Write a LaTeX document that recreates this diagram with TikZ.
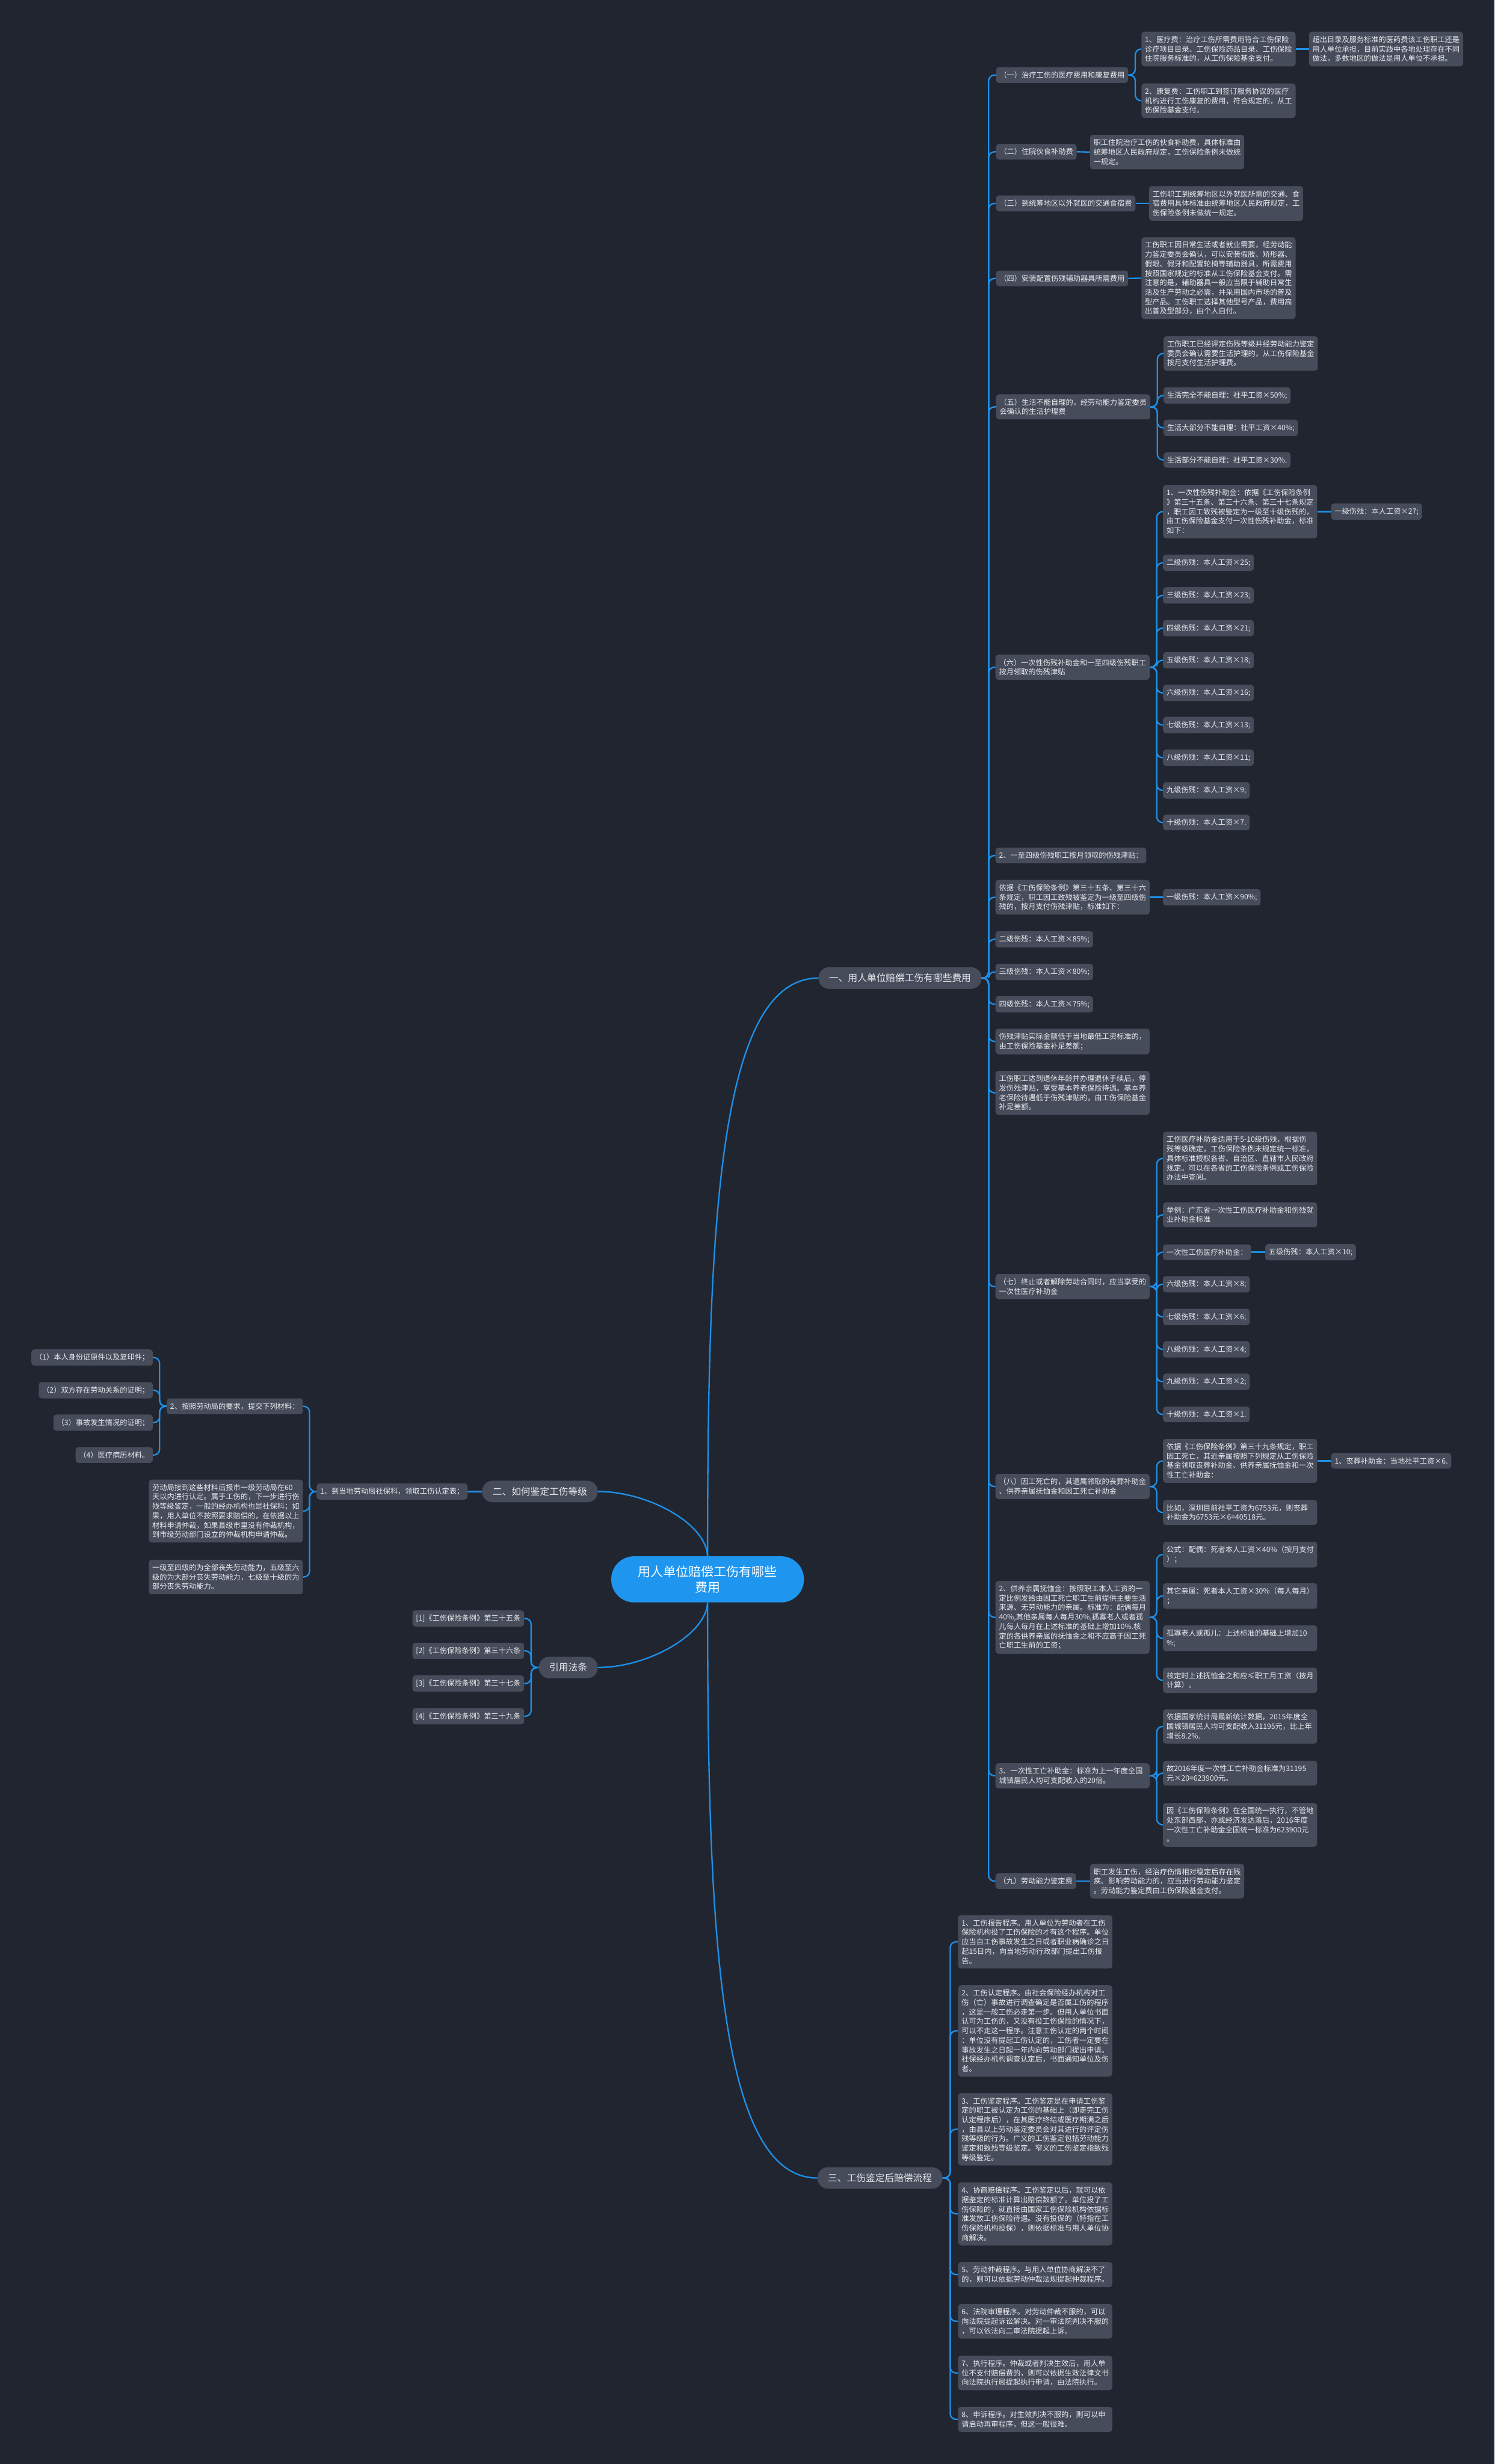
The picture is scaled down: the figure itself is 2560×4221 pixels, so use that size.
\documentclass[tikz,border=0pt]{standalone}
\usepackage{fontspec}
\setmainfont{Noto Sans CJK SC}
\definecolor{bgc}{RGB}{33,37,47}
\definecolor{nodec}{RGB}{70,76,90}
\definecolor{txtc}{RGB}{232,234,238}
\definecolor{linkc}{RGB}{30,144,232}
\definecolor{rootc}{RGB}{30,150,240}

\begin{document}
\begin{tikzpicture}[x=1pt, y=-1pt,
        leaf/.style={fill=nodec, rounded corners=5pt, text=txtc, align=left,
            inner xsep=6pt, inner ysep=7.5pt, font=\fontsize{12.6}{16.2}\selectfont},
        wide/.style={leaf, text width=252pt},
        branch/.style={fill=nodec, rounded corners=18pt, text=txtc, inner xsep=18pt,
            minimum height=37pt, font=\fontsize{16.2}{20}\selectfont},
        rootbox/.style={fill=rootc, rounded corners=39pt, text=white, align=center,
            minimum width=330pt, minimum height=79pt, font=\fontsize{21.6}{27}\selectfont},
        link/.style={draw=linkc, line width=2.4pt, rounded corners=10pt}]
        \fill[bgc] (0,0) rectangle (2560,4221);
        \useasboundingbox (0,0) rectangle (2560,4221);

        % centre and main branches
        \node[rootbox] (root) at (1212,2705.5) {用人单位赔偿工伤有哪些\\费用};
        \node[branch, anchor=west] (fy) at (1402,1675.5) {一、用人单位赔偿工伤有哪些费用};
        \node[branch, anchor=east] (jd) at (1024,2555) {二、如何鉴定工伤等级};
        \node[branch, anchor=east] (ft) at (1024,2856.5) {引用法条};
        \node[branch, anchor=west] (lc) at (1400,3731) {三、工伤鉴定后赔偿流程};

        % (一) to (五)
        \node[leaf, anchor=west] (a1) at (1706,128.5) {（一）治疗工伤的医疗费用和康复费用};
        \node[wide, anchor=west] (a1m) at (1955,84) {1、医疗费：治疗工伤所需费用符合工伤保险\\诊疗项目目录、工伤保险药品目录、工伤保险\\住院服务标准的，从工伤保险基金支付。};
        \node[wide, anchor=west] (a1x) at (2242,84) {超出目录及服务标准的医药费该工伤职工还是\\用人单位承担，目前实践中各地处理存在不同\\做法，多数地区的做法是用人单位不承担。};
        \node[wide, anchor=west] (a1k) at (1955,172.5) {2、康复费：工伤职工到签订服务协议的医疗\\机构进行工伤康复的费用，符合规定的，从工\\伤保险基金支付。};
        \node[leaf, anchor=west] (a2) at (1706,260) {（二）住院伙食补助费};
        \node[wide, anchor=west] (a2c) at (1867,260.5) {职工住院治疗工伤的伙食补助费，具体标准由\\统筹地区人民政府规定，工伤保险条例未做统\\一规定。};
        \node[leaf, anchor=west] (a3) at (1706,348.5) {（三）到统筹地区以外就医的交通食宿费};
        \node[wide, anchor=west] (a3c) at (1968,348.5) {工伤职工到统筹地区以外就医所需的交通、食\\宿费用具体标准由统筹地区人民政府规定，工\\伤保险条例未做统一规定。};
        \node[leaf, anchor=west] (a4) at (1706,477) {（四）安装配置伤残辅助器具所需费用};
        \node[wide, anchor=west] (a4c) at (1955,476.5) {工伤职工因日常生活或者就业需要，经劳动能\\力鉴定委员会确认，可以安装假肢、矫形器、\\假眼、假牙和配置轮椅等辅助器具，所需费用\\按照国家规定的标准从工伤保险基金支付。需\\注意的是，辅助器具一般应当限于辅助日常生\\活及生产劳动之必需，并采用国内市场的普及\\型产品。工伤职工选择其他型号产品，费用高\\出普及型部分，由个人自付。};
        \node[wide, anchor=west] (a5) at (1706,697) {（五）生活不能自理的，经劳动能力鉴定委员\\会确认的生活护理费};
        \node[wide, anchor=west] (a5a) at (1993,605.5) {工伤职工已经评定伤残等级并经劳动能力鉴定\\委员会确认需要生活护理的，从工伤保险基金\\按月支付生活护理费。};
        \node[leaf, anchor=west] (a5b) at (1993,677.5) {生活完全不能自理：社平工资×50\%;};
        \node[leaf, anchor=west] (a5c) at (1993,733) {生活大部分不能自理：社平工资×40\%;};
        \node[leaf, anchor=west] (a5d) at (1993,788) {生活部分不能自理：社平工资×30\%.};

        % (六)
        \node[wide, anchor=west] (a6) at (1705,1143) {（六）一次性伤残补助金和一至四级伤残职工\\按月领取的伤残津贴};
        \node[wide, anchor=west] (a6a) at (1992,876.5) {1、一次性伤残补助金：依据《工伤保险条例\\》第三十五条、第三十六条、第三十七条规定\\，职工因工致残被鉴定为一级至十级伤残的，\\由工伤保险基金支付一次性伤残补助金，标准\\如下：};
        \node[leaf, anchor=west] (a6z) at (2280,876.5) {一级伤残：本人工资×27;};
        \node[leaf, anchor=west] (a6g2) at (1992,964) {二级伤残：本人工资×25;};
        \node[leaf, anchor=west] (a6g3) at (1992,1020) {三级伤残：本人工资×23;};
        \node[leaf, anchor=west] (a6g4) at (1992,1076) {四级伤残：本人工资×21;};
        \node[leaf, anchor=west] (a6g5) at (1992,1131) {五级伤残：本人工资×18;};
        \node[leaf, anchor=west] (a6g6) at (1992,1187) {六级伤残：本人工资×16;};
        \node[leaf, anchor=west] (a6g7) at (1992,1242) {七级伤残：本人工资×13;};
        \node[leaf, anchor=west] (a6g8) at (1992,1298) {八级伤残：本人工资×11;};
        \node[leaf, anchor=west] (a6g9) at (1992,1354) {九级伤残：本人工资×9;};
        \node[leaf, anchor=west] (a6g10) at (1992,1409) {十级伤残：本人工资×7.};

        % monthly allowance
        \node[leaf, anchor=west] (b1) at (1705,1465.5) {2、一至四级伤残职工按月领取的伤残津贴：};
        \node[wide, anchor=west] (b2) at (1705,1537) {依据《工伤保险条例》第三十五条、第三十六\\条规定，职工因工致残被鉴定为一级至四级伤\\残的，按月支付伤残津贴，标准如下：};
        \node[leaf, anchor=west] (b2z) at (1992,1537) {一级伤残：本人工资×90\%;};
        \node[leaf, anchor=west] (b3) at (1705,1609) {二级伤残：本人工资×85\%;};
        \node[leaf, anchor=west] (b4) at (1705,1665) {三级伤残：本人工资×80\%;};
        \node[leaf, anchor=west] (b5) at (1705,1720.5) {四级伤残：本人工资×75\%;};
        \node[wide, anchor=west] (b6) at (1705,1784) {伤残津贴实际金额低于当地最低工资标准的，\\由工伤保险基金补足差额；};
        \node[wide, anchor=west] (b7) at (1705,1872) {工伤职工达到退休年龄并办理退休手续后，停\\发伤残津贴，享受基本养老保险待遇。基本养\\老保险待遇低于伤残津贴的，由工伤保险基金\\补足差额。};

        % (七)
        \node[wide, anchor=west] (a7) at (1705,2204) {（七）终止或者解除劳动合同时，应当享受的\\一次性医疗补助金};
        \node[wide, anchor=west] (a7a) at (1992,1984.5) {工伤医疗补助金适用于5-10级伤残，根据伤\\残等级确定，工伤保险条例未规定统一标准，\\具体标准授权各省、自治区、直辖市人民政府\\规定。可以在各省的工伤保险条例或工伤保险\\办法中查阅。};
        \node[wide, anchor=west] (a7b) at (1992,2081) {举例：广东省一次性工伤医疗补助金和伤残就\\业补助金标准};
        \node[leaf, anchor=west] (a7c) at (1992,2145) {一次性工伤医疗补助金：};
        \node[leaf, anchor=west] (a7z) at (2167,2145) {五级伤残：本人工资×10;};
        \node[leaf, anchor=west] (a7g6) at (1992,2200) {六级伤残：本人工资×8;};
        \node[leaf, anchor=west] (a7g7) at (1992,2256) {七级伤残：本人工资×6;};
        \node[leaf, anchor=west] (a7g8) at (1992,2311.5) {八级伤残：本人工资×4;};
        \node[leaf, anchor=west] (a7g9) at (1992,2367) {九级伤残：本人工资×2;};
        \node[leaf, anchor=west] (a7g10) at (1992,2423) {十级伤残：本人工资×1.};

        % (八)
        \node[wide, anchor=west] (a8) at (1705,2546.5) {（八）因工死亡的，其遗属领取的丧葬补助金\\、供养亲属抚恤金和因工死亡补助金};
        \node[wide, anchor=west] (a8a) at (1992,2502.5) {依据《工伤保险条例》第三十九条规定，职工\\因工死亡，其近亲属按照下列规定从工伤保险\\基金领取丧葬补助金、供养亲属抚恤金和一次\\性工亡补助金：};
        \node[leaf, anchor=west] (a8z) at (2280,2502.5) {1、丧葬补助金：当地社平工资×6.};
        \node[wide, anchor=west] (a8b) at (1992,2591) {比如，深圳目前社平工资为6753元，则丧葬\\补助金为6753元×6=40518元。};
        \node[wide, anchor=west] (d2) at (1705,2770.5) {2、供养亲属抚恤金：按照职工本人工资的一\\定比例发给由因工死亡职工生前提供主要生活\\来源、无劳动能力的亲属。标准为：配偶每月\\40\%,其他亲属每人每月30\%,孤寡老人或者孤\\儿每人每月在上述标准的基础上增加10\%.核\\定的各供养亲属的抚恤金之和不应高于因工死\\亡职工生前的工资；};
        \node[wide, anchor=west] (d2a) at (1992,2663) {公式：配偶：死者本人工资×40\%（按月支付\\）；};
        \node[wide, anchor=west] (d2b) at (1992,2734) {其它亲属：死者本人工资×30\%（每人每月）\\；};
        \node[wide, anchor=west] (d2c) at (1992,2806.5) {孤寡老人或孤儿：上述标准的基础上增加10\\\%;};
        \node[wide, anchor=west] (d2d) at (1992,2878.5) {核定时上述抚恤金之和应≤职工月工资（按月\\计算）。};
        \node[wide, anchor=west] (d3) at (1705,3042) {3、一次性工亡补助金：标准为上一年度全国\\城镇居民人均可支配收入的20倍。};
        \node[wide, anchor=west] (d3a) at (1992,2957.5) {依据国家统计局最新统计数据，2015年度全\\国城镇居民人均可支配收入31195元，比上年\\增长8.2\%.};
        \node[wide, anchor=west] (d3b) at (1992,3037.5) {故2016年度一次性工亡补助金标准为31195\\元×20=623900元。};
        \node[wide, anchor=west] (d3c) at (1992,3126) {因《工伤保险条例》在全国统一执行，不管地\\处东部西部，亦或经济发达落后，2016年度\\一次性工亡补助金全国统一标准为623900元\\。};

        % (九)
        \node[leaf, anchor=west] (a9) at (1705,3222.5) {（九）劳动能力鉴定费};
        \node[wide, anchor=west] (a9c) at (1867,3222.5) {职工发生工伤，经治疗伤情相对稳定后存在残\\疾、影响劳动能力的，应当进行劳动能力鉴定\\。劳动能力鉴定费由工伤保险基金支付。};

        % procedure
        \node[wide, anchor=west] (p1) at (1641,3326.5) {1、工伤报告程序。用人单位为劳动者在工伤\\保险机构投了工伤保险的才有这个程序。单位\\应当自工伤事故发生之日或者职业病确诊之日\\起15日内，向当地劳动行政部门提出工伤报\\告。};
        \node[wide, anchor=west] (p2) at (1641,3479) {2、工伤认定程序。由社会保险经办机构对工\\伤（亡）事故进行调查确定是否属工伤的程序\\，这是一般工伤必走第一步。但用人单位书面\\认可为工伤的，又没有投工伤保险的情况下，\\可以不走这一程序。注意工伤认定的两个时间\\：单位没有提起工伤认定的，工伤者一定要在\\事故发生之日起一年内向劳动部门提出申请。\\社保经办机构调查认定后，书面通知单位及伤\\者。};
        \node[wide, anchor=west] (p3) at (1641,3647.5) {3、工伤鉴定程序。工伤鉴定是在申请工伤鉴\\定的职工被认定为工伤的基础上（即走完工伤\\认定程序后），在其医疗终结或医疗期满之后\\，由县以上劳动鉴定委员会对其进行的评定伤\\残等级的行为。广义的工伤鉴定包括劳动能力\\鉴定和致残等级鉴定。窄义的工伤鉴定指致残\\等级鉴定。};
        \node[wide, anchor=west] (p4) at (1641,3792.5) {4、协商赔偿程序。工伤鉴定以后，就可以依\\据鉴定的标准计算出赔偿数额了。单位投了工\\伤保险的，就直接由国家工伤保险机构依据标\\准发放工伤保险待遇。没有投保的（特指在工\\伤保险机构投保），则依据标准与用人单位协\\商解决。};
        \node[wide, anchor=west] (p5) at (1641,3896.5) {5、劳动仲裁程序。与用人单位协商解决不了\\的，则可以依据劳动仲裁法规提起仲裁程序。};
        \node[wide, anchor=west] (p6) at (1641,3976.5) {6、法院审理程序。对劳动仲裁不服的，可以\\向法院提起诉讼解决。对一审法院判决不服的\\，可以依法向二审法院提起上诉。};
        \node[wide, anchor=west] (p7) at (1641,4065) {7、执行程序。仲裁或者判决生效后，用人单\\位不支付赔偿费的，则可以依据生效法律文书\\向法院执行局提起执行申请，由法院执行。};
        \node[wide, anchor=west] (p8) at (1641,4144.5) {8、申诉程序。对生效判决不服的，则可以申\\请启动再审程序，但这一般很难。};

        % left side
        \node[leaf, anchor=east] (j1) at (801,2555) {1、到当地劳动局社保科，领取工伤认定表；};
        \node[leaf, anchor=east] (j2) at (519,2409) {2、按照劳动局的要求，提交下列材料：};
        \node[wide, anchor=east] (j3) at (519,2588.5) {劳动局接到这些材料后报市一级劳动局在60\\天以内进行认定。属于工伤的，下一步进行伤\\残等级鉴定，一般的经办机构也是社保科；如\\果，用人单位不按照要求赔偿的，在依据以上\\材料申请仲裁，如果县级市里没有仲裁机构，\\到市级劳动部门设立的仲裁机构申请仲裁。};
        \node[wide, anchor=east] (j4) at (519,2701.5) {一级至四级的为全部丧失劳动能力，五级至六\\级的为大部分丧失劳动能力，七级至十级的为\\部分丧失劳动能力。};
        \node[leaf, anchor=east] (m1) at (262,2325.5) {（1）本人身份证原件以及复印件；};
        \node[leaf, anchor=east] (m2) at (262,2381.5) {（2）双方存在劳动关系的证明；};
        \node[leaf, anchor=east] (m3) at (262,2437) {（3）事故发生情况的证明；};
        \node[leaf, anchor=east] (m4) at (262,2492.5) {（4）医疗病历材料。};
        \node[leaf, anchor=east] (r1) at (898,2772.5) {[1]《工伤保险条例》第三十五条};
        \node[leaf, anchor=east] (r2) at (898,2828) {[2]《工伤保险条例》第三十六条};
        \node[leaf, anchor=east] (r3) at (898,2884) {[3]《工伤保险条例》第三十七条};
        \node[leaf, anchor=east] (r4) at (898,2940) {[4]《工伤保险条例》第三十九条};

        % connectors from the centre
        \draw[link] (root.north) .. controls (1212,2100) and (1230,1675.5) .. (fy.west);
        \draw[link] (root.north) .. controls (1210,2610) and (1110,2555) .. (jd.east);
        \draw[link] (root.south) .. controls (1210,2800) and (1110,2856.5) .. (ft.east);
        \draw[link] (root.south) .. controls (1212,3300) and (1230,3731) .. (lc.west);

        % branch one
        \draw[link] (fy.east) -- ++(12,0) |- (a1.west);
        \draw[link] (fy.east) -- ++(12,0) |- (a2.west);
        \draw[link] (fy.east) -- ++(12,0) |- (a3.west);
        \draw[link] (fy.east) -- ++(12,0) |- (a4.west);
        \draw[link] (fy.east) -- ++(12,0) |- (a5.west);
        \draw[link] (fy.east) -- ++(12,0) |- (a6.west);
        \draw[link] (fy.east) -- ++(12,0) |- (b1.west);
        \draw[link] (fy.east) -- ++(12,0) |- (b2.west);
        \draw[link] (fy.east) -- ++(12,0) |- (b3.west);
        \draw[link] (fy.east) -- ++(12,0) |- (b4.west);
        \draw[link] (fy.east) -- ++(12,0) |- (b5.west);
        \draw[link] (fy.east) -- ++(12,0) |- (b6.west);
        \draw[link] (fy.east) -- ++(12,0) |- (b7.west);
        \draw[link] (fy.east) -- ++(12,0) |- (a7.west);
        \draw[link] (fy.east) -- ++(12,0) |- (a8.west);
        \draw[link] (fy.east) -- ++(12,0) |- (d2.west);
        \draw[link] (fy.east) -- ++(12,0) |- (d3.west);
        \draw[link] (fy.east) -- ++(12,0) |- (a9.west);

        \draw[link] (a1.east) -- ++(12,0) |- (a1m.west);
        \draw[link] (a1.east) -- ++(12,0) |- (a1k.west);
        \draw[link] (a1m.east) -- (a1x.west);
        \draw[link] (a2.east) -- (a2c.west);
        \draw[link] (a3.east) -- (a3c.west);
        \draw[link] (a4.east) -- (a4c.west);
        \draw[link] (a5.east) -- ++(12,0) |- (a5a.west);
        \draw[link] (a5.east) -- ++(12,0) |- (a5b.west);
        \draw[link] (a5.east) -- ++(12,0) |- (a5c.west);
        \draw[link] (a5.east) -- ++(12,0) |- (a5d.west);

        \draw[link] (a6.east) -- ++(12,0) |- (a6a.west);
        \draw[link] (a6.east) -- ++(12,0) |- (a6g2.west);
        \draw[link] (a6.east) -- ++(12,0) |- (a6g3.west);
        \draw[link] (a6.east) -- ++(12,0) |- (a6g4.west);
        \draw[link] (a6.east) -- ++(12,0) |- (a6g5.west);
        \draw[link] (a6.east) -- ++(12,0) |- (a6g6.west);
        \draw[link] (a6.east) -- ++(12,0) |- (a6g7.west);
        \draw[link] (a6.east) -- ++(12,0) |- (a6g8.west);
        \draw[link] (a6.east) -- ++(12,0) |- (a6g9.west);
        \draw[link] (a6.east) -- ++(12,0) |- (a6g10.west);
        \draw[link] (a6a.east) -- (a6z.west);
        \draw[link] (b2.east) -- (b2z.west);

        \draw[link] (a7.east) -- ++(12,0) |- (a7a.west);
        \draw[link] (a7.east) -- ++(12,0) |- (a7b.west);
        \draw[link] (a7.east) -- ++(12,0) |- (a7c.west);
        \draw[link] (a7.east) -- ++(12,0) |- (a7g6.west);
        \draw[link] (a7.east) -- ++(12,0) |- (a7g7.west);
        \draw[link] (a7.east) -- ++(12,0) |- (a7g8.west);
        \draw[link] (a7.east) -- ++(12,0) |- (a7g9.west);
        \draw[link] (a7.east) -- ++(12,0) |- (a7g10.west);
        \draw[link] (a7c.east) -- (a7z.west);

        \draw[link] (a8.east) -- ++(12,0) |- (a8a.west);
        \draw[link] (a8.east) -- ++(12,0) |- (a8b.west);
        \draw[link] (a8a.east) -- (a8z.west);
        \draw[link] (d2.east) -- ++(12,0) |- (d2a.west);
        \draw[link] (d2.east) -- ++(12,0) |- (d2b.west);
        \draw[link] (d2.east) -- ++(12,0) |- (d2c.west);
        \draw[link] (d2.east) -- ++(12,0) |- (d2d.west);
        \draw[link] (d3.east) -- ++(12,0) |- (d3a.west);
        \draw[link] (d3.east) -- ++(12,0) |- (d3b.west);
        \draw[link] (d3.east) -- ++(12,0) |- (d3c.west);
        \draw[link] (a9.east) -- (a9c.west);

        % branch three
        \draw[link] (lc.east) -- ++(13,0) |- (p1.west);
        \draw[link] (lc.east) -- ++(13,0) |- (p2.west);
        \draw[link] (lc.east) -- ++(13,0) |- (p3.west);
        \draw[link] (lc.east) -- ++(13,0) |- (p4.west);
        \draw[link] (lc.east) -- ++(13,0) |- (p5.west);
        \draw[link] (lc.east) -- ++(13,0) |- (p6.west);
        \draw[link] (lc.east) -- ++(13,0) |- (p7.west);
        \draw[link] (lc.east) -- ++(13,0) |- (p8.west);

        % branch two and the laws
        \draw[link] (jd.west) -- (j1.east);
        \draw[link] (j1.west) -- ++(-12,0) |- (j2.east);
        \draw[link] (j1.west) -- ++(-12,0) |- (j3.east);
        \draw[link] (j1.west) -- ++(-12,0) |- (j4.east);
        \draw[link] (j2.west) -- ++(-12,0) |- (m1.east);
        \draw[link] (j2.west) -- ++(-12,0) |- (m2.east);
        \draw[link] (j2.west) -- ++(-12,0) |- (m3.east);
        \draw[link] (j2.west) -- ++(-12,0) |- (m4.east);
        \draw[link] (ft.west) -- ++(-13,0) |- (r1.east);
        \draw[link] (ft.west) -- ++(-13,0) |- (r2.east);
        \draw[link] (ft.west) -- ++(-13,0) |- (r3.east);
        \draw[link] (ft.west) -- ++(-13,0) |- (r4.east);
    \end{tikzpicture}
\end{document}
